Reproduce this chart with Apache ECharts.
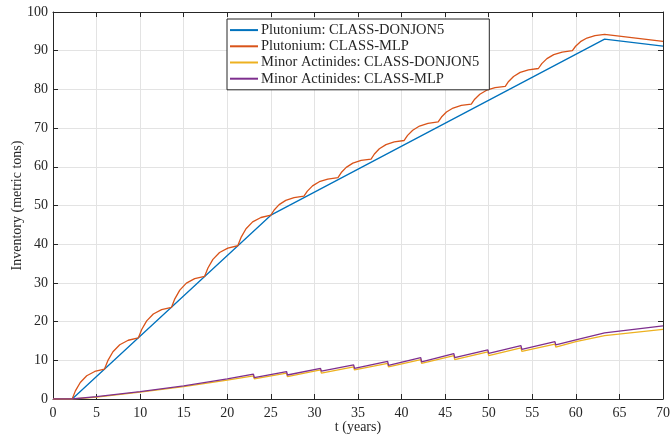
<!DOCTYPE html>
<html><head><meta charset="utf-8">
<script src="https://cdn.jsdelivr.net/npm/echarts@6/dist/echarts.min.js"></script>
<style>html,body{margin:0;padding:0;background:#fff}#c{width:672px;height:437px}</style>
</head><body><div id="c"></div>
<script>
const seriesNames = ["Plutonium: CLASS-DONJON5","Plutonium: CLASS-MLP","Minor Actinides: CLASS-DONJON5","Minor Actinides: CLASS-MLP"];
const xTickLabels = [0,5,10,15,20,25,30,35,40,45,50,55,60,65,70];
const yTickLabels = [0,10,20,30,40,50,60,70,80,90,100];

const puDonjon = [[0,0],[2.2,0],[25,47.5],[63.3,93.0],[70,91.2]];

const puMlp = [
 [0,0],[2.2,0],[2.57,2.10],[3.13,4.27],[3.87,6.01],[4.79,7.11],
 [5.9,7.7],[6.29,9.91],[6.88,12.20],[7.66,14.02],[8.63,15.18],
 [9.8,15.8],[10.18,17.96],[10.75,20.18],[11.51,21.96],[12.46,23.10],
 [13.6,23.7],[13.98,25.88],[14.55,28.14],[15.31,29.94],[16.26,31.09],
 [17.4,31.7],[17.78,33.86],[18.35,36.08],[19.11,37.86],[20.06,39.0],
 [21.2,39.6],[21.58,41.76],[22.15,43.98],[22.91,45.76],[23.86,46.9],
 [25.0,47.5],[25.38,48.84],[25.95,50.22],[26.71,51.32],[27.66,52.03],
 [28.8,52.4],[29.19,53.71],[29.78,55.06],[30.56,56.14],[31.53,56.84],
 [32.7,57.2],[33.08,58.51],[33.65,59.86],[34.41,60.94],[35.36,61.64],
 [36.5,62.0],[36.88,63.31],[37.45,64.66],[38.21,65.74],[39.16,66.44],
 [40.3,66.8],[40.69,68.11],[41.28,69.46],[42.06,70.54],[43.03,71.24],
 [44.2,71.6],[44.58,72.86],[45.15,74.15],[45.91,75.19],[46.86,75.85],
 [48.0,76.2],[48.39,77.46],[48.98,78.75],[49.76,79.79],[50.73,80.45],
 [51.9,80.8],[52.28,82.06],[52.85,83.35],[53.61,84.39],[54.56,85.05],
 [55.7,85.4],[56.09,86.66],[56.68,87.95],[57.46,88.99],[58.43,89.65],
 [59.6,90.0],[59.97,91.15],[60.53,92.33],[61.27,93.28],[62.19,93.88],
 [63.3,94.2],[70,92.4]
];

const maDonjon = [[0,0],[2.2,0],[5,0.5],[10,1.75],[15,3.2],[20,4.9],[23,6.0],[23.1,5.2],[26.8,6.7],[26.9,5.8],[30.7,7.5],[30.8,6.7],[34.5,8.3],[34.6,7.5],[38.4,9.2],[38.5,8.3],[42.2,10.2],[42.3,9.2],[46,11.2],[46.1,10.2],[49.9,12.2],[50.0,11.2],[53.7,13.2],[53.8,12.3],[57.6,14.2],[57.7,13.4],[60,14.8],[63.3,16.4],[70,18.0]];

const maMlp = [[0,0],[2.2,0],[5,0.6],[10,1.9],[15,3.4],[20,5.2],[23,6.4],[23.1,5.5],[26.8,7.1],[26.9,6.2],[30.7,7.9],[30.8,7.2],[34.5,8.8],[34.6,7.9],[38.4,9.7],[38.5,8.7],[42.2,10.7],[42.3,9.6],[46,11.7],[46.1,10.7],[49.9,12.7],[50.0,11.8],[53.7,13.8],[53.8,12.8],[57.6,14.8],[57.7,14.0],[60,15.3],[63.3,17.1],[70,18.9]];

const colors = ['#0072BD','#D95319','#EDB120','#7E2F8E'];
const font = 'Liberation Serif';
const axisCol = '#262626';

const chart = echarts.init(document.getElementById('c'), null, {renderer:'canvas'});
const mkX = (pos, labels) => ({
  type:'value', min:0, max:70, interval:5, position:pos,
  axisLine:{show:true, onZero:false, lineStyle:{color:axisCol, width:1}},
  axisTick:{show:true, inside:true, length:5, lineStyle:{color:axisCol}},
  axisLabel:{show:labels, color:'#262626', fontFamily:font, fontSize:14, margin:7,
    formatter: v => xTickLabels.includes(v) ? String(v) : ''},
  splitLine:{show:labels, lineStyle:{color:'#e3e3e3', width:1}},
  name: labels ? 't (years)' : '', nameLocation:'middle', nameGap:21, nameMoveOverlap:false,
  nameTextStyle:{fontFamily:font, fontSize:14, color:'#262626'}
});
const mkY = (pos, labels) => ({
  type:'value', min:0, max:100, interval:10, position:pos,
  axisLine:{show:true, onZero:false, lineStyle:{color:axisCol, width:1}},
  axisTick:{show:true, inside:true, length:5, lineStyle:{color:axisCol}},
  axisLabel:{show:labels, color:'#262626', fontFamily:font, fontSize:14, margin:5,
    formatter: v => yTickLabels.includes(v) ? String(v) : ''},
  splitLine:{show:labels, lineStyle:{color:'#e3e3e3', width:1}},
  name: labels ? 'Inventory (metric tons)' : '', nameLocation:'middle', nameGap:29, nameMoveOverlap:false,
  nameTextStyle:{fontFamily:font, fontSize:14, color:'#262626'}
});
const datas = [puDonjon, puMlp, maDonjon, maMlp];
chart.setOption({
  animation:false,
  backgroundColor:'#fff',
  grid:{left:53, right:9, top:12, bottom:38, containLabel:false, outerBoundsMode:'none'},
  xAxis:[mkX('bottom', true), mkX('top', false)],
  yAxis:[mkY('left', true), mkY('right', false)],
  legend:{
    orient:'vertical', left:227, top:19,
    data: seriesNames,
    icon:'rect', itemWidth:28, itemHeight:2, itemGap:0,
    padding:[3,10,3,3],
    backgroundColor:'#fff', borderColor:axisCol, borderWidth:1,
    textStyle:{fontFamily:font, fontSize:14.5, color:'#262626', lineHeight:16.2, padding:[0,0,0,-2]}
  },
  series: datas.map((d,i)=>({
    name: seriesNames[i], type:'line', data:d, xAxisIndex:0, yAxisIndex:0,
    symbol:'none', showSymbol:false,
    lineStyle:{color:colors[i], width:1.3}, itemStyle:{color:colors[i]},
    z: 2+i
  }))
});
</script></body></html>
